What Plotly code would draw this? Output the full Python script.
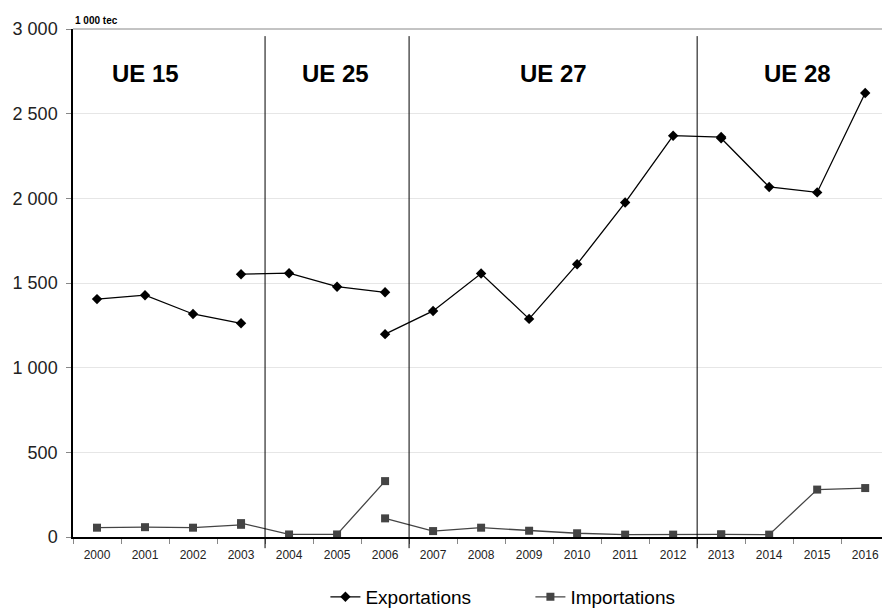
import plotly.graph_objects as go

# years for each EU period (segments overlap on the changeover year)
years_ue15 = ['2000', '2001', '2002', '2003']
years_ue25 = ['2003', '2004', '2005', '2006']
years_ue27 = ['2006', '2007', '2008', '2009', '2010', '2011', '2012', '2013']
years_ue28 = ['2013', '2014', '2015', '2016']

# exports, 1 000 tec
exp_ue15 = [1405, 1428, 1317, 1262]
exp_ue25 = [1552, 1558, 1478, 1445]
exp_ue27 = [1198, 1335, 1556, 1288, 1611, 1975, 2370, 2362]
exp_ue28 = [2355, 2067, 2035, 2622]

# imports, 1 000 tec
imp_ue15 = [55, 58, 55, 72]
imp_ue25 = [82, 15, 15, 330]
imp_ue27 = [110, 35, 55, 37, 22, 14, 14, 15]
imp_ue28 = [15, 14, 280, 289]

period_labels = ['UE 15', 'UE 25', 'UE 27', 'UE 28']
period_label_x = [1.02, 4.96, 9.5, 14.58]
period_bounds = [3.5, 6.5, 12.5]

FONT = 'Liberation Sans, Arial, sans-serif'


def add_series(fig, segments, name, color, symbol):
    for i, (xs, ys) in enumerate(segments):
        fig.add_trace(go.Scatter(
            x=xs, y=ys, mode='lines+markers', name=name,
            legendgroup=name, showlegend=(i == 0),
            line=dict(color=color, width=1.3),
            marker=dict(symbol=symbol, size=8, color=color),
            cliponaxis=False))


fig = go.Figure()
add_series(fig, [(years_ue15, exp_ue15), (years_ue25, exp_ue25),
                 (years_ue27, exp_ue27), (years_ue28, exp_ue28)],
           'Exportations', '#000000', 'diamond')
add_series(fig, [(years_ue15, imp_ue15), (years_ue25, imp_ue25),
                 (years_ue27, imp_ue27), (years_ue28, imp_ue28)],
           'Importations', '#444444', 'square')

# separators between periods
for xb in period_bounds:
    fig.add_shape(type='line', xref='x', yref='paper', x0=xb, x1=xb,
                  y0=-0.022, y1=0.986, line=dict(color='#000000', width=1))

# top border of the plot area
fig.add_shape(type='line', xref='paper', yref='paper', x0=0, x1=1, y0=1, y1=1,
              line=dict(color='#888888', width=1))

for label, lx in zip(period_labels, period_label_x):
    fig.add_annotation(x=lx, y=2735, text='<b>%s</b>' % label, showarrow=False,
                       font=dict(family=FONT, size=24, color='#000000'))

fig.add_annotation(xref='paper', yref='paper', x=0, y=1, xanchor='left',
                   yanchor='bottom', yshift=1, text='<b>1 000 tec</b>',
                   showarrow=False, font=dict(family=FONT, size=10, color='#000000'))

fig.update_layout(
    width=882, height=610,
    margin=dict(l=73, r=0, t=29, b=73, autoexpand=False),
    plot_bgcolor='white', paper_bgcolor='white',
    separators=', ',
    font=dict(family=FONT, color='#000000'),
    xaxis=dict(
        type='category',
        range=[-0.5, 16.35],
        tickson='boundaries',
        ticks='outside', ticklen=5, tickcolor='#888888',
        ticklabelstandoff=6,
        showgrid=False, showline=True, linecolor='#000000', linewidth=1.5,
        tickfont=dict(family=FONT, size=12, color='#222222'),
    ),
    yaxis=dict(
        range=[0, 3000], dtick=500, tickformat=',d',
        ticks='outside', ticklen=5, tickcolor='#888888',
        ticklabelstandoff=5,
        showgrid=True, gridcolor='#e6e6e6', zeroline=False,
        showline=True, linecolor='#000000', linewidth=1.5,
        tickfont=dict(family=FONT, size=18, color='#222222'),
    ),
    legend=dict(
        orientation='h', x=0.312, xanchor='left', y=-0.118, yanchor='middle',
        font=dict(family=FONT, size=19, color='#000000'),
        itemwidth=30, entrywidth=160,
    ),
)

# drop the default page margin so the figure fills the window exactly
fig.write_html("out.html", config={'displayModeBar': False},
               post_script="document.body.style.margin='0';document.body.style.overflow='hidden';")
